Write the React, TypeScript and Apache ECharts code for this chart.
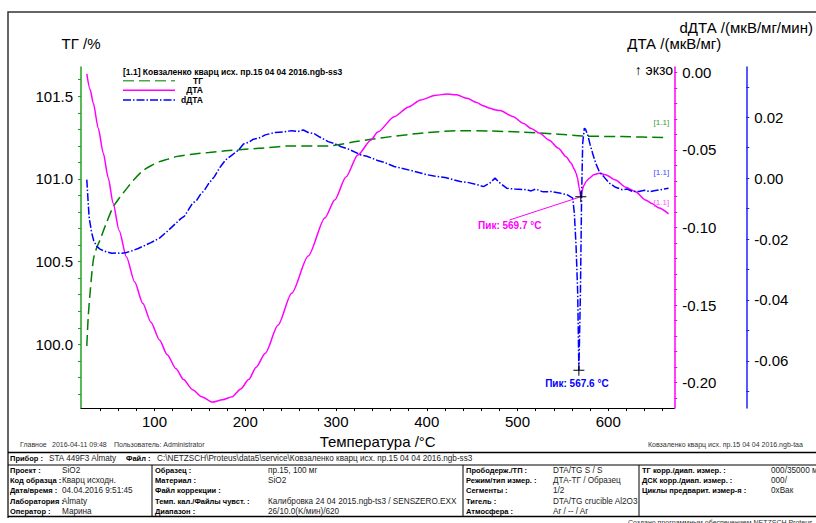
import React, { useEffect, useRef } from "react";
import * as echarts from "echarts";

// ---------- data ----------
const tgTemp = [25.4, 27, 29, 32.6, 36, 39.9, 46, 54.4, 62, 69.1, 78, 87.2, 96, 105.5, 115, 123.7, 141.9, 160, 178.4, 214.8, 251.1, 291, 324, 338.6, 360.4, 396.9, 437, 469.7, 506.2, 542.6, 571.8, 615.5, 666.4];
const tgValues = [99.99, 100.17, 100.31, 100.51, 100.58, 100.63, 100.72, 100.83, 100.89, 100.94, 101.0, 101.05, 101.08, 101.105, 101.12, 101.135, 101.15, 101.16, 101.17, 101.185, 101.2, 101.2, 101.228, 101.24, 101.256, 101.278, 101.292, 101.29, 101.283, 101.272, 101.26, 101.256, 101.25];

const dtaTemp = [25.4, 29, 32.6, 38, 43.5, 49, 54.4, 61, 69.1, 78, 87.2, 96, 105.5, 114, 123.7, 132, 141.9, 152, 163.7, 175, 185.6, 195, 203.8, 212, 222.1, 236, 251.1, 269.4, 287.7, 298.6, 310.9, 324, 338.6, 345.9, 364.2, 380, 393.2, 410, 422.4, 433, 444.3, 455, 462, 469.7, 475, 480.7, 495.3, 506.2, 515, 524.4, 535, 545, 553.6, 559, 562.6, 564.5, 566, 568, 569.7, 571, 573, 576, 579, 584, 590, 597, 608, 619, 630, 641, 648, 656, 666.4];
const dtaValues = [-0.001, -0.011, -0.02, -0.036, -0.052, -0.068, -0.0844, -0.102, -0.119, -0.135, -0.149, -0.161, -0.1725, -0.182, -0.191, -0.198, -0.2045, -0.209, -0.2125, -0.211, -0.209, -0.204, -0.198, -0.19, -0.181, -0.163, -0.1424, -0.1184, -0.0939, -0.0823, -0.0675, -0.0533, -0.0436, -0.0385, -0.0286, -0.0223, -0.0178, -0.0148, -0.014, -0.0145, -0.0168, -0.0195, -0.0215, -0.0232, -0.0242, -0.0247, -0.0286, -0.0329, -0.0362, -0.0393, -0.0438, -0.049, -0.0544, -0.0585, -0.0625, -0.065, -0.068, -0.0745, -0.0802, -0.0765, -0.073, -0.07, -0.0683, -0.066, -0.065, -0.066, -0.0694, -0.074, -0.0769, -0.0823, -0.0845, -0.0875, -0.0912];

const ddtaTemp = [25.4, 26.5, 28, 30.8, 33, 36.3, 40, 43.5, 48, 53, 58.1, 64, 69.1, 76, 82, 87.2, 96, 105.5, 114, 123.7, 129, 133, 141.9, 146, 151, 155, 160.1, 166, 172, 178.4, 185, 192.9, 198, 204, 209, 214.8, 222, 233, 242, 251.1, 258, 264, 269.4, 276, 282, 291.3, 298, 305.8, 314, 327.7, 334, 345.9, 353, 364, 372, 384, 400.5, 408, 420, 436.9, 445, 456, 462.5, 469.7, 475.2, 479, 488, 497, 509.8, 515, 520, 528.1, 537, 546.2, 555, 560.8, 562.6, 564.5, 566.3, 567.6, 569.3, 570.6, 571.8, 573.6, 575, 577.3, 580, 582.7, 586, 590, 595, 600.9, 608, 615.5, 621, 626, 633.7, 640, 646, 651.9, 658, 666.4];
const ddtaValues = [-0.0005, -0.006, -0.013, -0.018, -0.0205, -0.0224, -0.0233, -0.0238, -0.0243, -0.0247, -0.0246, -0.0247, -0.0244, -0.0238, -0.0231, -0.0224, -0.0212, -0.0197, -0.0175, -0.0148, -0.0133, -0.0125, -0.0082, -0.0075, -0.0052, -0.004, -0.0016, 0.0005, 0.0035, 0.006, 0.0075, 0.0093, 0.0112, 0.0118, 0.0128, 0.0131, 0.0142, 0.015, 0.0152, 0.0156, 0.0153, 0.0158, 0.015, 0.0146, 0.0135, 0.012, 0.0114, 0.0103, 0.0095, 0.0076, 0.0072, 0.0058, 0.0052, 0.0038, 0.0033, 0.0024, 0.0011, 0.0007, 0.0002, -0.0011, -0.0014, -0.0022, -0.0028, -0.0016, 0.0, -0.0012, -0.0033, -0.0036, -0.0038, -0.0042, -0.0036, -0.0045, -0.0044, -0.0049, -0.0055, -0.0066, -0.0115, -0.0224, -0.0377, -0.0631, -0.0377, -0.006, 0.0115, 0.0164, 0.016, 0.0142, 0.011, 0.0082, 0.005, 0.0022, 0.0005, -0.0016, -0.003, -0.0038, -0.0036, -0.0043, -0.0044, -0.004, -0.0044, -0.0041, -0.0038, -0.0033];

const xLabelValues = [100, 200, 300, 400, 500, 600];
const tgLabelValues = [100.0, 100.5, 101.0, 101.5];
const dtaLabelValues = [-0.2, -0.15, -0.1, -0.05, 0.0];
const ddtaLabelValues = [-0.06, -0.04, -0.02, 0.0, 0.02];

const dtaPeak = { t: 569.7, v: -0.0802, label: "Пик: 569.7 °C", anchor: [491, -0.0952] };
const ddtaPeak = { t: 567.6, v: -0.0631, label: "Пик: 567.6 °C" };

const legendTitle = "[1.1] Ковзаленко кварц исх. пр.15 04 04 2016.ngb-ss3";
const seriesNames = ["ТГ", "ДТА", "dДТА"];

const instrument = "STA 449F3 Almaty";
const filePath = "C:\\NETZSCH\\Proteus\\data5\\service\\Ковзаленко кварц исх. пр.15 04 04 2016.ngb-ss3";
const col1 = [["Проект :", "SiO2"], ["Код образца :", "Кварц исходн."], ["Дата/время :", "04.04.2016 9:51:45"], ["Лаборатория :", "Almaty"], ["Оператор :", "Марина"]];
const col2 = [["Образец :", "пр.15, 100 мг"], ["Материал :", "SiO2"], ["Файл коррекции :", ""], ["Темп. кал./Файлы чувст. :", "Калибровка 24 04 2015.ngb-ts3 / SENSZERO.EXX"], ["Диапазон :", "26/10.0(K/мин)/620"]];
const col3 = [["Прободерж./ТП :", "DTA/TG S / S"], ["Режим/тип измер. :", "ДТА-ТГ / Образец"], ["Сегменты :", "1/2"], ["Тигель :", "DTA/TG crucible Al2O3"], ["Атмосфера :", "Ar / -- / Ar"]];
const col4 = [["ТГ корр./диап. измер. :", "000/35000 мг"], ["ДСК корр./диап. измер. :", "000/"], ["Циклы предварит. измер-я :", "0xВак"], ["", ""], ["", ""]];
const footerLeft = ["Главное", "2016-04-11 09:48", "Пользователь: Administrator"];
const footerRight = "Ковзаленко кварц исх. пр.15 04 04 2016.ngb-taa";
const footerBottom = "Создано программным обеспечением NETZSCH Proteus";

// ---------- helpers ----------
const FF = '"Liberation Sans", Arial, sans-serif';
const GREEN = "#008000";
const MAGENTA = "#ff00ff";
const BLUE = "#0000ff";
const TG_DASH = [11, 5];
const DDTA_DASH = [8, 2, 1.5, 2];

function range(a: number, b: number, s: number) {
  const out: number[] = [];
  for (let v = a; v <= b + 1e-9; v += s) out.push(Math.round(v * 10000) / 10000);
  return out;
}

function txt(x: number, y: number, text: string, size: number, bold = false, fill = "#000", align = "left") {
  return {
    type: "text",
    x,
    y,
    silent: true,
    style: {
      text,
      fill,
      font: `${bold ? "bold " : ""}${size}px ${FF}`,
      textAlign: align,
      textVerticalAlign: "middle",
    },
  };
}
function ln(x1: number, y1: number, x2: number, y2: number, w = 1, c = "#000", dash?: number[]) {
  const style: any = { stroke: c, lineWidth: w };
  if (dash) style.lineDash = dash;
  return { type: "line", silent: true, shape: { x1, y1, x2, y2 }, style };
}

export default function App() {
  const ref = useRef<HTMLDivElement>(null);
  useEffect(() => {
    document.body.style.margin = "0";
    if (!ref.current) return;
    const chart = echarts.init(ref.current, null, { renderer: "svg" });

    const tgData = tgTemp.map((t, i) => [t, tgValues[i]]);
    const dtaData = dtaTemp.map((t, i) => [t, dtaValues[i]]);
    const ddtaData = ddtaTemp.map((t, i) => [t, ddtaValues[i]]);

    const rowY = [470.5, 480.7, 490.9, 501.1, 511.3];
    const tableEls: any[] = [];
    const cols = [
      { data: col1, lx: 10, vx: 62 },
      { data: col2, lx: 155, vx: 268 },
      { data: col3, lx: 466, vx: 553 },
      { data: col4, lx: 642, vx: 771 },
    ];
    cols.forEach((c) => {
      c.data.forEach((r, i) => {
        if (r[0]) tableEls.push(txt(c.lx, rowY[i], r[0], 7.5, true, "#000"));
        if (r[1]) tableEls.push(txt(c.vx, rowY[i], r[1], 8.2, false, "#222"));
      });
    });

    const legendEls: any[] = [
      txt(123, 71.5, legendTitle, 8.5, true, "#000"),
      ln(123, 80.7, 175, 80.7, 1.5, "#4aa84a", TG_DASH),
      txt(203, 80.7, seriesNames[0], 8.5, true, "#000", "right"),
      ln(123, 90.3, 175, 90.3, 1.5, MAGENTA),
      txt(203, 90.3, seriesNames[1], 8.5, true, "#000", "right"),
      ln(123, 100, 175, 100, 1.5, BLUE, DDTA_DASH),
      txt(203, 100, seriesNames[2], 8.5, true, "#000", "right"),
    ];

    const crossSymbol = "path://M0 5 L10 5 M5 0 L5 10";

    const yAxisCommon = {
      type: "value",
      splitLine: { show: false },
      axisLabel: { fontSize: 15, color: "#000", fontFamily: FF, margin: 8 },
      nameTextStyle: { fontSize: 15, color: "#000", fontFamily: FF },
      nameLocation: "end",
    };

    const option: any = {
      animation: false,
      backgroundColor: "#fff",
      textStyle: { fontFamily: FF },
      grid: { left: 81, right: 137, top: 67, bottom: 115, containLabel: false },
      xAxis: {
        type: "value",
        min: 19,
        max: 672.7,
        name: "Температура /°C",
        nameLocation: "middle",
        nameGap: 20,
        nameTextStyle: { fontSize: 15, color: "#000", fontFamily: FF },
        splitLine: { show: false },
        axisLine: { onZero: false, lineStyle: { color: "#000", width: 1 } },
        axisTick: { customValues: range(40, 660, 20), length: 3, lineStyle: { color: "#000" } },
        axisLabel: { customValues: xLabelValues, fontSize: 15, color: "#000", fontFamily: FF, margin: 6 },
      },
      yAxis: [
        {
          ...yAxisCommon,
          position: "left",
          min: 99.615,
          max: 101.677,
          name: "ТГ /%",
          nameGap: 16,
          axisLine: { show: true, onZero: false, lineStyle: { color: "#22a022", width: 1.5 } },
          axisTick: { customValues: range(99.7, 101.6, 0.1), length: 3, lineStyle: { color: "#22a022" } },
          axisLabel: { ...yAxisCommon.axisLabel, customValues: tgLabelValues, formatter: (v: number) => v.toFixed(1) },
        },
        {
          ...yAxisCommon,
          position: "right",
          min: -0.2163,
          max: 0.0034,
          name: "ДТА /(мкВ/мг)",
          nameGap: 16,
          axisLine: { show: true, onZero: false, lineStyle: { color: MAGENTA, width: 1.5 } },
          axisTick: { customValues: range(-0.21, 0, 0.01), length: 3, lineStyle: { color: MAGENTA } },
          axisLabel: { ...yAxisCommon.axisLabel, customValues: dtaLabelValues, formatter: (v: number) => v.toFixed(2) },
        },
        {
          ...yAxisCommon,
          position: "right",
          offset: 72,
          min: -0.0755,
          max: 0.0365,
          name: "dДТА /(мкВ/мг/мин)",
          nameGap: 32,
          axisLine: { show: true, onZero: false, lineStyle: { color: "#2020ff", width: 1.5 } },
          axisTick: { customValues: range(-0.07, 0.03, 0.01), length: 3, lineStyle: { color: "#2020ff" } },
          axisLabel: { ...yAxisCommon.axisLabel, customValues: ddtaLabelValues, formatter: (v: number) => v.toFixed(2) },
        },
      ],
      series: [
        {
          name: seriesNames[0],
          type: "line",
          yAxisIndex: 0,
          data: tgData,
          showSymbol: false,
          symbol: "none",
          smooth: 0.3,
          lineStyle: { color: GREEN, width: 1.5, type: TG_DASH },
          itemStyle: { color: GREEN },
          endLabel: { show: true, formatter: "[1.1]", fontSize: 8, color: "#3a9a3a", offset: [-23, -15] },
        },
        {
          name: seriesNames[1],
          type: "line",
          yAxisIndex: 1,
          data: dtaData,
          showSymbol: false,
          symbol: "none",
          smooth: 0.25,
          smoothMonotone: "x",
          lineStyle: { color: MAGENTA, width: 1.5 },
          itemStyle: { color: MAGENTA },
          endLabel: { show: true, formatter: "[1.1]", fontSize: 8, color: "#ff55ff", offset: [-23, -11] },
          markLine: {
            silent: true,
            symbol: "none",
            label: { show: false },
            lineStyle: { color: MAGENTA, width: 1, type: "solid" },
            data: [[{ coord: dtaPeak.anchor }, { coord: [dtaPeak.t, dtaPeak.v] }]],
          },
          markPoint: {
            silent: true,
            symbol: crossSymbol,
            symbolSize: 11,
            itemStyle: { color: "none", borderColor: "#000", borderWidth: 1 },
            label: {
              show: true,
              position: "inside",
              offset: [-71, 29],
              formatter: dtaPeak.label,
              color: MAGENTA,
              fontSize: 10,
              fontWeight: "bold",
              fontFamily: FF,
            },
            data: [{ coord: [dtaPeak.t, dtaPeak.v] }],
          },
        },
        {
          name: seriesNames[2],
          type: "line",
          yAxisIndex: 2,
          data: ddtaData,
          showSymbol: false,
          symbol: "none",
          lineStyle: { color: BLUE, width: 1.5, type: DDTA_DASH },
          itemStyle: { color: BLUE },
          endLabel: { show: true, formatter: "[1.1]", fontSize: 8, color: "#4444ff", offset: [-23, -16] },
          markPoint: {
            silent: true,
            symbol: crossSymbol,
            symbolSize: 11,
            itemStyle: { color: "none", borderColor: "#000", borderWidth: 1 },
            label: {
              show: true,
              position: "inside",
              offset: [-2, 13],
              formatter: ddtaPeak.label,
              color: BLUE,
              fontSize: 10,
              fontWeight: "bold",
              fontFamily: FF,
            },
            data: [{ coord: [ddtaPeak.t, ddtaPeak.v] }],
          },
        },
      ],
      graphic: [
        // outer frame
        { type: "polyline", silent: true, shape: { points: [[8, 518], [8, 12], [830, 12]] }, style: { stroke: "#333", lineWidth: 1.5, fill: "none" } },
        ...legendEls,
        txt(673, 70, "↑ экзо", 14, false, "#000", "right"),
        // footers
        txt(20, 444.5, footerLeft[0], 7, false, "#333"),
        txt(52, 444.5, footerLeft[1], 7, false, "#333"),
        txt(114, 444.5, footerLeft[2], 7, false, "#333"),
        txt(648, 444.5, footerRight, 7, false, "#333"),
        // table lines
        ln(8, 452.5, 830, 452.5, 1.5, "#000"),
        ln(8, 465, 830, 465, 1, "#000"),
        ln(8, 516.5, 830, 516.5, 1.5, "#000"),
        ln(152, 465, 152, 516.5, 1, "#000"),
        ln(463, 465, 463, 516.5, 1, "#000"),
        ln(639, 465, 639, 516.5, 1, "#000"),
        // header row
        txt(10, 458.7, "Прибор :", 7.5, true),
        txt(49, 458.7, instrument, 8.2, false, "#222"),
        txt(126, 458.7, "Файл :", 7.5, true),
        txt(157, 458.7, filePath, 8.2, false, "#222"),
        ...tableEls,
        txt(628, 522, footerBottom, 7, false, "#333"),
      ],
    };

    chart.setOption(option);
    return () => chart.dispose();
  }, []);

  return <div ref={ref} style={{ width: 816, height: 523 }} />;
}
